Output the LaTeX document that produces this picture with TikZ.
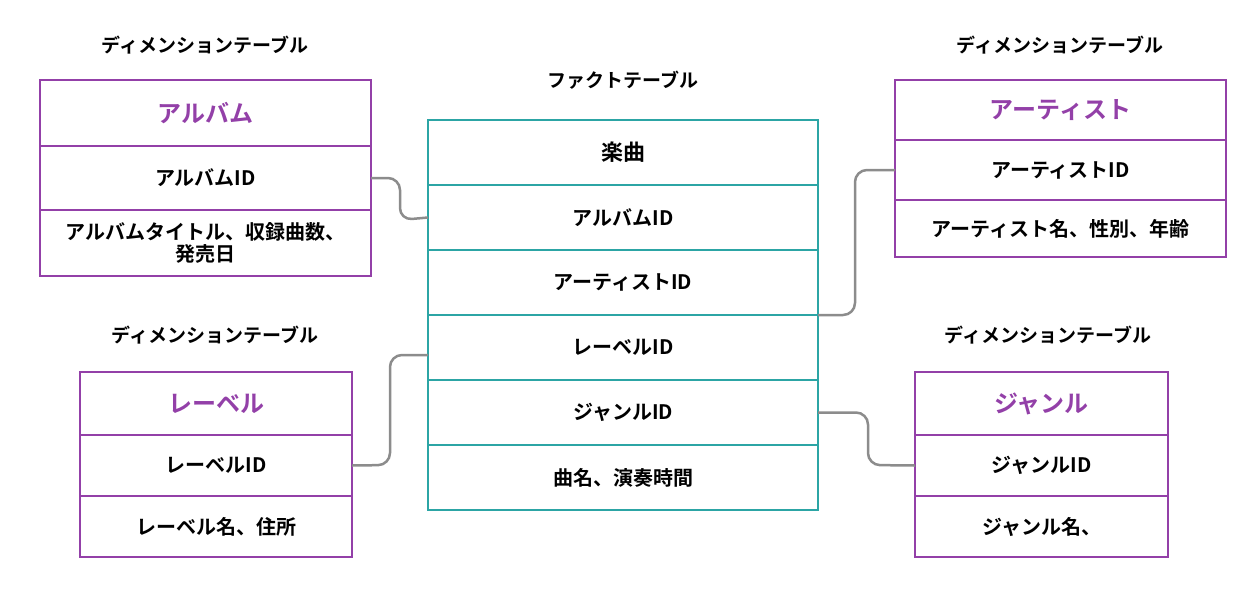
\documentclass[tikz,border=0pt]{standalone}
\usepackage{fontspec}
\setmainfont{Noto Sans CJK JP}[BoldFont={Noto Sans CJK JP Bold}]
\begin{document}
\begin{tikzpicture}[x=1pt,y=-1pt,
  cell/.style={draw=#1,line width=2pt,minimum height=0pt,inner sep=0pt,font=\fontsize{20}{22}\selectfont\bfseries,align=center},
  head/.style={font=\fontsize{19}{21}\selectfont\bfseries},
  ttl/.style={text=pur,font=\fontsize{24}{26}\selectfont\bfseries},
  conn/.style={draw=gray!90,line width=2.5pt,rounded corners=12pt}]
\definecolor{pur}{HTML}{9340A8}
\definecolor{tea}{HTML}{2CA5A5}
\useasboundingbox (0,0) rectangle (1246,598);
\newcommand{\cellbox}[7]{% name, x1,y1,x2,y2,color,text
  \path[draw=#6,line width=2pt] (#2,#3) rectangle (#4,#5);
  \node[align=center,font=\fontsize{20}{24}\selectfont\bfseries] (#1) at ({(#2+#4)/2},{(#3+#5)/2}) {#7};
  \coordinate (#1L) at (#2,{(#3+#5)/2});
  \coordinate (#1R) at (#4,{(#3+#5)/2});}
% headers
\node[head] (h1) at (205,45) {ディメンションテーブル};
\node[head] (h2) at (1060,45) {ディメンションテーブル};
\node[head] (h3) at (215,335) {ディメンションテーブル};
\node[head] (h4) at (1048,335) {ディメンションテーブル};
\node[head] (h5) at (623,80) {ファクトテーブル};
% album
\cellbox{a1}{40}{80}{371}{146}{pur}{\textcolor{pur}{\fontsize{24}{26}\selectfont アルバム}}
\cellbox{a2}{40}{146}{371}{210}{pur}{アルバムID}
\cellbox{a3}{40}{210}{371}{276}{pur}{アルバムタイトル、収録曲数、\\[-2pt]発売日}
% artist
\cellbox{r1}{895}{80}{1226}{140}{pur}{\textcolor{pur}{\fontsize{24}{26}\selectfont アーティスト}}
\cellbox{r2}{895}{140}{1226}{200}{pur}{アーティストID}
\cellbox{r3}{895}{200}{1226}{257}{pur}{アーティスト名、性別、年齢}
% label
\cellbox{l1}{80}{372}{352}{435}{pur}{\textcolor{pur}{\fontsize{24}{26}\selectfont レーベル}}
\cellbox{l2}{80}{435}{352}{496}{pur}{レーベルID}
\cellbox{l3}{80}{496}{352}{557}{pur}{レーベル名、住所}
% genre
\cellbox{g1}{915}{372}{1168}{435}{pur}{\textcolor{pur}{\fontsize{24}{26}\selectfont ジャンル}}
\cellbox{g2}{915}{435}{1168}{496}{pur}{ジャンルID}
\cellbox{g3}{915}{496}{1168}{557}{pur}{ジャンル名、}
% fact
\cellbox{f1}{428}{120}{818}{185}{tea}{\fontsize{22}{24}\selectfont 楽曲}
\cellbox{f2}{428}{185}{818}{250}{tea}{アルバムID}
\cellbox{f3}{428}{250}{818}{315}{tea}{アーティストID}
\cellbox{f4}{428}{315}{818}{380}{tea}{レーベルID}
\cellbox{f5}{428}{380}{818}{445}{tea}{ジャンルID}
\cellbox{f6}{428}{445}{818}{510}{tea}{曲名、演奏時間}
\coordinate (f34) at (818,315);
\coordinate (f45) at (428,355);
% connectors
\draw[conn] (a2R) -| (400,220) -- (f2L);
\draw[conn] (f34) -| (855,170) -- (r2L);
\draw[conn] (f45) -| (390,465) -- (l2R);
\draw[conn] (f5R) -| (868,465) -- (g2L);
\end{tikzpicture}
\end{document}
